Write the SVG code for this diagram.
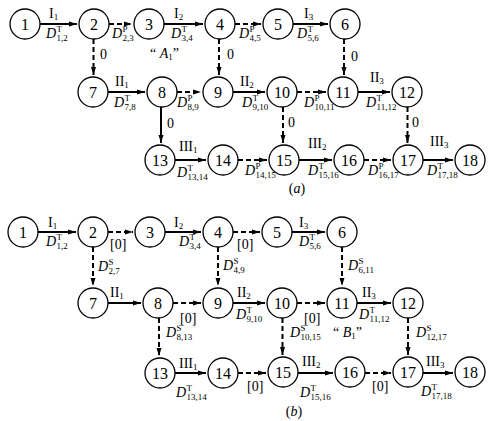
<svg xmlns="http://www.w3.org/2000/svg" width="489" height="421" viewBox="0 0 489 421">
<style>
.bg{fill:#fff}
.node circle{fill:#fff;stroke:#000;stroke-width:1.3}
.node text{font-family:"Liberation Serif","Times New Roman",serif;font-size:16px;text-anchor:middle;fill:#000}
.s{stroke:#000;stroke-width:2;fill:none}
.d{stroke:#000;stroke-width:2;fill:none;stroke-dasharray:5 3}
text{font-family:"Liberation Serif","Times New Roman",serif;fill:#000}
.rn{font-size:14px}
.dl{font-size:14px}
.it{font-style:italic}
.sm{font-size:9px}
.z{font-size:14px}
.cap{font-size:14px;text-anchor:middle}
</style>
<defs>
<marker id="ah" markerUnits="userSpaceOnUse" markerWidth="9" markerHeight="7" refX="8" refY="3" orient="auto">
<path d="M0,0.5 L8,3 L0,5.5 z" fill="#000"/>
</marker>
</defs>
<rect class="bg" x="0" y="0" width="489" height="421"/>

<g id="connectors">
<!-- (a) row 1 -->
<line class="s" x1="40" y1="24" x2="77" y2="24" marker-end="url(#ah)"/>
<line class="d" x1="109" y1="24" x2="132" y2="24" marker-end="url(#ah)"/>
<line class="s" x1="164" y1="24" x2="203" y2="24" marker-end="url(#ah)"/>
<line class="d" x1="235" y1="24" x2="261" y2="24" marker-end="url(#ah)"/>
<line class="s" x1="293" y1="24" x2="328" y2="24" marker-end="url(#ah)"/>
<line class="d" x1="93.5" y1="39" x2="93.5" y2="75" marker-end="url(#ah)"/>
<line class="d" x1="219" y1="39" x2="219" y2="75" marker-end="url(#ah)"/>
<line class="d" x1="344" y1="39" x2="344" y2="75" marker-end="url(#ah)"/>
<!-- (a) row 2 -->
<line class="s" x1="108" y1="92" x2="145" y2="92" marker-end="url(#ah)"/>
<line class="d" x1="177" y1="92" x2="201" y2="92" marker-end="url(#ah)"/>
<line class="s" x1="233" y1="92" x2="265" y2="92" marker-end="url(#ah)"/>
<line class="d" x1="297" y1="92" x2="326" y2="92" marker-end="url(#ah)"/>
<line class="s" x1="358" y1="92" x2="390" y2="92" marker-end="url(#ah)"/>
<line class="s" x1="161" y1="107" x2="161" y2="143" marker-end="url(#ah)"/>
<line class="d" x1="283" y1="107" x2="283" y2="143" marker-end="url(#ah)"/>
<line class="d" x1="407.5" y1="107" x2="407.5" y2="143" marker-end="url(#ah)"/>
<!-- (a) row 3 -->
<line class="s" x1="175" y1="160" x2="206" y2="160" marker-end="url(#ah)"/>
<line class="d" x1="238" y1="160" x2="267" y2="160" marker-end="url(#ah)"/>
<line class="s" x1="299" y1="160" x2="332" y2="160" marker-end="url(#ah)"/>
<line class="d" x1="364" y1="160" x2="391" y2="160" marker-end="url(#ah)"/>
<line class="s" x1="423" y1="160" x2="453" y2="160" marker-end="url(#ah)"/>
<!-- (b) row 1 -->
<line class="s" x1="38" y1="232" x2="76" y2="232" marker-end="url(#ah)"/>
<line class="d" x1="108" y1="232" x2="133" y2="232" marker-end="url(#ah)"/>
<line class="s" x1="165" y1="232" x2="201" y2="232" marker-end="url(#ah)"/>
<line class="d" x1="233" y1="232" x2="260" y2="232" marker-end="url(#ah)"/>
<line class="s" x1="292" y1="232" x2="325" y2="232" marker-end="url(#ah)"/>
<line class="d" x1="93" y1="247" x2="93" y2="286" marker-end="url(#ah)"/>
<line class="d" x1="218" y1="247" x2="218" y2="286" marker-end="url(#ah)"/>
<line class="d" x1="342" y1="247" x2="342" y2="286" marker-end="url(#ah)"/>
<!-- (b) row 2 -->
<line class="s" x1="108" y1="303" x2="141" y2="303" marker-end="url(#ah)"/>
<line class="d" x1="173" y1="303" x2="201" y2="303" marker-end="url(#ah)"/>
<line class="s" x1="233" y1="303" x2="265" y2="303" marker-end="url(#ah)"/>
<line class="d" x1="297" y1="303" x2="325" y2="303" marker-end="url(#ah)"/>
<line class="s" x1="357" y1="303" x2="391" y2="303" marker-end="url(#ah)"/>
<line class="d" x1="159" y1="318" x2="159" y2="356" marker-end="url(#ah)"/>
<line class="d" x1="282.5" y1="318" x2="282.5" y2="355" marker-end="url(#ah)"/>
<line class="d" x1="408" y1="318" x2="408" y2="355" marker-end="url(#ah)"/>
<!-- (b) row 3 -->
<line class="s" x1="175" y1="373" x2="206" y2="373" marker-end="url(#ah)"/>
<line class="d" x1="238" y1="373" x2="266" y2="373" marker-end="url(#ah)"/>
<line class="s" x1="298" y1="373" x2="333" y2="373" marker-end="url(#ah)"/>
<line class="d" x1="365" y1="373" x2="391" y2="373" marker-end="url(#ah)"/>
<line class="s" x1="423" y1="373" x2="453" y2="373" marker-end="url(#ah)"/>
</g>

<!-- nodes (a) -->
<g id="a1" class="node"><circle cx="25" cy="24" r="15"/><text x="25" y="29.5">1</text></g>
<g id="a2" class="node"><circle cx="94" cy="24" r="15"/><text x="94" y="29.5">2</text></g>
<g id="a3" class="node"><circle cx="149" cy="24" r="15"/><text x="149" y="29.5">3</text></g>
<g id="a4" class="node"><circle cx="220" cy="24" r="15"/><text x="220" y="29.5">4</text></g>
<g id="a5" class="node"><circle cx="278" cy="24" r="15"/><text x="278" y="29.5">5</text></g>
<g id="a6" class="node"><circle cx="345" cy="24" r="15"/><text x="345" y="29.5">6</text></g>
<g id="a7" class="node"><circle cx="93" cy="92" r="15"/><text x="93" y="97.5">7</text></g>
<g id="a8" class="node"><circle cx="162" cy="92" r="15"/><text x="162" y="97.5">8</text></g>
<g id="a9" class="node"><circle cx="218" cy="92" r="15"/><text x="218" y="97.5">9</text></g>
<g id="a10" class="node"><circle cx="282" cy="92" r="15"/><text x="282" y="97.5">10</text></g>
<g id="a11" class="node"><circle cx="343" cy="92" r="15"/><text x="343" y="97.5">11</text></g>
<g id="a12" class="node"><circle cx="407" cy="92" r="15"/><text x="407" y="97.5">12</text></g>
<g id="a13" class="node"><circle cx="160" cy="160" r="15"/><text x="160" y="165.5">13</text></g>
<g id="a14" class="node"><circle cx="223" cy="160" r="15"/><text x="223" y="165.5">14</text></g>
<g id="a15" class="node"><circle cx="284" cy="160" r="15"/><text x="284" y="165.5">15</text></g>
<g id="a16" class="node"><circle cx="349" cy="160" r="15"/><text x="349" y="165.5">16</text></g>
<g id="a17" class="node"><circle cx="408" cy="160" r="15"/><text x="408" y="165.5">17</text></g>
<g id="a18" class="node"><circle cx="470" cy="160" r="15"/><text x="470" y="165.5">18</text></g>

<!-- nodes (b) -->
<g id="b1" class="node"><circle cx="23" cy="232" r="15"/><text x="23" y="237.5">1</text></g>
<g id="b2" class="node"><circle cx="93" cy="232" r="15"/><text x="93" y="237.5">2</text></g>
<g id="b3" class="node"><circle cx="150" cy="232" r="15"/><text x="150" y="237.5">3</text></g>
<g id="b4" class="node"><circle cx="218" cy="232" r="15"/><text x="218" y="237.5">4</text></g>
<g id="b5" class="node"><circle cx="277" cy="232" r="15"/><text x="277" y="237.5">5</text></g>
<g id="b6" class="node"><circle cx="342" cy="232" r="15"/><text x="342" y="237.5">6</text></g>
<g id="b7" class="node"><circle cx="93" cy="303" r="15"/><text x="93" y="308.5">7</text></g>
<g id="b8" class="node"><circle cx="158" cy="303" r="15"/><text x="158" y="308.5">8</text></g>
<g id="b9" class="node"><circle cx="218" cy="303" r="15"/><text x="218" y="308.5">9</text></g>
<g id="b10" class="node"><circle cx="282" cy="303" r="15"/><text x="282" y="308.5">10</text></g>
<g id="b11" class="node"><circle cx="342" cy="303" r="15"/><text x="342" y="308.5">11</text></g>
<g id="b12" class="node"><circle cx="408" cy="303" r="15"/><text x="408" y="308.5">12</text></g>
<g id="b13" class="node"><circle cx="160" cy="373" r="15"/><text x="160" y="378.5">13</text></g>
<g id="b14" class="node"><circle cx="223" cy="373" r="15"/><text x="223" y="378.5">14</text></g>
<g id="b15" class="node"><circle cx="283" cy="372" r="15"/><text x="283" y="377.5">15</text></g>
<g id="b16" class="node"><circle cx="350" cy="372" r="15"/><text x="350" y="377.5">16</text></g>
<g id="b17" class="node"><circle cx="408" cy="372" r="15"/><text x="408" y="377.5">17</text></g>
<g id="b18" class="node"><circle cx="470" cy="372" r="15"/><text x="470" y="377.5">18</text></g>

<g id="labels-a">
<text class="rn" x="49" y="18">I<tspan class="sm" dy="2">1</tspan></text>
<text class="rn" x="174" y="18">I<tspan class="sm" dy="2">2</tspan></text>
<text class="rn" x="304" y="18">I<tspan class="sm" dy="2">3</tspan></text>
<text class="rn" x="115" y="86">II<tspan class="sm" dy="2">1</tspan></text>
<text class="rn" x="240" y="86">II<tspan class="sm" dy="2">2</tspan></text>
<text class="rn" x="370" y="82">II<tspan class="sm" dy="2">3</tspan></text>
<text class="rn" x="179" y="151">III<tspan class="sm" dy="2">1</tspan></text>
<text class="rn" x="308" y="148">III<tspan class="sm" dy="2">2</tspan></text>
<text class="rn" x="430" y="146">III<tspan class="sm" dy="2">3</tspan></text>

<text class="dl" y="38"><tspan x="46" class="it">D</tspan><tspan x="56.5" dy="-6" class="sm">T</tspan><tspan x="56.5" dy="9" class="sm">1,2</tspan></text>
<text class="dl" y="38"><tspan x="112" class="it">D</tspan><tspan x="122.5" dy="-6" class="sm">P</tspan><tspan x="122.5" dy="9" class="sm">2,3</tspan></text>
<text class="dl" y="38"><tspan x="171" class="it">D</tspan><tspan x="181.5" dy="-6" class="sm">T</tspan><tspan x="181.5" dy="9" class="sm">3,4</tspan></text>
<text class="dl" y="38"><tspan x="239" class="it">D</tspan><tspan x="249.5" dy="-6" class="sm">P</tspan><tspan x="249.5" dy="9" class="sm">4,5</tspan></text>
<text class="dl" y="38"><tspan x="297" class="it">D</tspan><tspan x="307.5" dy="-6" class="sm">T</tspan><tspan x="307.5" dy="9" class="sm">5,6</tspan></text>
<text class="dl" y="107"><tspan x="114" class="it">D</tspan><tspan x="124.5" dy="-6" class="sm">T</tspan><tspan x="124.5" dy="9" class="sm">7,8</tspan></text>
<text class="dl" y="107"><tspan x="177" class="it">D</tspan><tspan x="187.5" dy="-6" class="sm">P</tspan><tspan x="187.5" dy="9" class="sm">8,9</tspan></text>
<text class="dl" y="107"><tspan x="242" class="it">D</tspan><tspan x="252.5" dy="-6" class="sm">T</tspan><tspan x="252.5" dy="9" class="sm">9,10</tspan></text>
<text class="dl" y="107"><tspan x="304" class="it">D</tspan><tspan x="314.5" dy="-6" class="sm">P</tspan><tspan x="314.5" dy="9" class="sm">10,11</tspan></text>
<text class="dl" y="107"><tspan x="366" class="it">D</tspan><tspan x="376.5" dy="-6" class="sm">T</tspan><tspan x="376.5" dy="9" class="sm">11,12</tspan></text>
<text class="dl" y="177"><tspan x="177" class="it">D</tspan><tspan x="187.5" dy="-6" class="sm">T</tspan><tspan x="187.5" dy="9" class="sm">13,14</tspan></text>
<text class="dl" y="175"><tspan x="245" class="it">D</tspan><tspan x="255.5" dy="-6" class="sm">P</tspan><tspan x="255.5" dy="9" class="sm">14,15</tspan></text>
<text class="dl" y="175"><tspan x="308" class="it">D</tspan><tspan x="318.5" dy="-6" class="sm">T</tspan><tspan x="318.5" dy="9" class="sm">15,16</tspan></text>
<text class="dl" y="175"><tspan x="368" class="it">D</tspan><tspan x="378.5" dy="-6" class="sm">P</tspan><tspan x="378.5" dy="9" class="sm">16,17</tspan></text>
<text class="dl" y="175"><tspan x="427" class="it">D</tspan><tspan x="437.5" dy="-6" class="sm">T</tspan><tspan x="437.5" dy="9" class="sm">17,18</tspan></text>

<text class="z" x="100" y="59">0</text>
<text class="z" x="227" y="59">0</text>
<text class="z" x="351" y="61">0</text>
<text class="z" x="167" y="128">0</text>
<text class="z" x="288" y="127">0</text>
<text class="z" x="412" y="127">0</text>
<text class="dl" x="150" y="58">“ <tspan class="it">A</tspan><tspan class="sm" dy="2">1</tspan><tspan dy="-2">”</tspan></text>
<text class="cap" x="297" y="193">(<tspan class="it">a</tspan>)</text>
</g>

<g id="labels-b">
<text class="rn" x="48" y="227">I<tspan class="sm" dy="2">1</tspan></text>
<text class="rn" x="174" y="227">I<tspan class="sm" dy="2">2</tspan></text>
<text class="rn" x="299" y="227">I<tspan class="sm" dy="2">3</tspan></text>
<text class="rn" x="110" y="297">II<tspan class="sm" dy="2">1</tspan></text>
<text class="rn" x="237" y="297">II<tspan class="sm" dy="2">2</tspan></text>
<text class="rn" x="362" y="297">II<tspan class="sm" dy="2">3</tspan></text>
<text class="rn" x="179" y="368">III<tspan class="sm" dy="2">1</tspan></text>
<text class="rn" x="302" y="366">III<tspan class="sm" dy="2">2</tspan></text>
<text class="rn" x="426" y="366">III<tspan class="sm" dy="2">3</tspan></text>

<text class="dl" y="246"><tspan x="46" class="it">D</tspan><tspan x="56.5" dy="-6" class="sm">T</tspan><tspan x="56.5" dy="9" class="sm">1,2</tspan></text>
<text class="dl" y="246"><tspan x="179" class="it">D</tspan><tspan x="189.5" dy="-6" class="sm">T</tspan><tspan x="189.5" dy="9" class="sm">3,4</tspan></text>
<text class="dl" y="246"><tspan x="299" class="it">D</tspan><tspan x="309.5" dy="-6" class="sm">T</tspan><tspan x="309.5" dy="9" class="sm">5,6</tspan></text>
<text class="dl" y="319"><tspan x="236" class="it">D</tspan><tspan x="246.5" dy="-6" class="sm">T</tspan><tspan x="246.5" dy="9" class="sm">9,10</tspan></text>
<text class="dl" y="319"><tspan x="359" class="it">D</tspan><tspan x="369.5" dy="-6" class="sm">T</tspan><tspan x="369.5" dy="9" class="sm">11,12</tspan></text>
<text class="dl" y="397"><tspan x="176" class="it">D</tspan><tspan x="186.5" dy="-6" class="sm">T</tspan><tspan x="186.5" dy="9" class="sm">13,14</tspan></text>
<text class="dl" y="397"><tspan x="300" class="it">D</tspan><tspan x="310.5" dy="-6" class="sm">T</tspan><tspan x="310.5" dy="9" class="sm">15,16</tspan></text>
<text class="dl" y="396"><tspan x="421" class="it">D</tspan><tspan x="431.5" dy="-6" class="sm">T</tspan><tspan x="431.5" dy="9" class="sm">17,18</tspan></text>

<text class="dl" y="271"><tspan x="98" class="it">D</tspan><tspan x="108.5" dy="-6" class="sm">S</tspan><tspan x="108.5" dy="9" class="sm">2,7</tspan></text>
<text class="dl" y="270"><tspan x="223" class="it">D</tspan><tspan x="233.5" dy="-6" class="sm">S</tspan><tspan x="233.5" dy="9" class="sm">4,9</tspan></text>
<text class="dl" y="270"><tspan x="348" class="it">D</tspan><tspan x="358.5" dy="-6" class="sm">S</tspan><tspan x="358.5" dy="9" class="sm">6,11</tspan></text>
<text class="dl" y="337"><tspan x="166" class="it">D</tspan><tspan x="176.5" dy="-6" class="sm">S</tspan><tspan x="176.5" dy="9" class="sm">8,13</tspan></text>
<text class="dl" y="337"><tspan x="290" class="it">D</tspan><tspan x="300.5" dy="-6" class="sm">S</tspan><tspan x="300.5" dy="9" class="sm">10,15</tspan></text>
<text class="dl" y="337"><tspan x="416" class="it">D</tspan><tspan x="426.5" dy="-6" class="sm">S</tspan><tspan x="426.5" dy="9" class="sm">12,17</tspan></text>

<text class="z" x="110" y="249">[0]</text>
<text class="z" x="237" y="249">[0]</text>
<text class="z" x="180" y="323">[0]</text>
<text class="z" x="304" y="323">[0]</text>
<text class="z" x="247" y="391">[0]</text>
<text class="z" x="372" y="391">[0]</text>
<text class="dl" x="333" y="337">“ <tspan class="it">B</tspan><tspan class="sm" dy="2">1</tspan><tspan dy="-2">”</tspan></text>
<text class="cap" x="294" y="416">(<tspan class="it">b</tspan>)</text>
</g>
</svg>
